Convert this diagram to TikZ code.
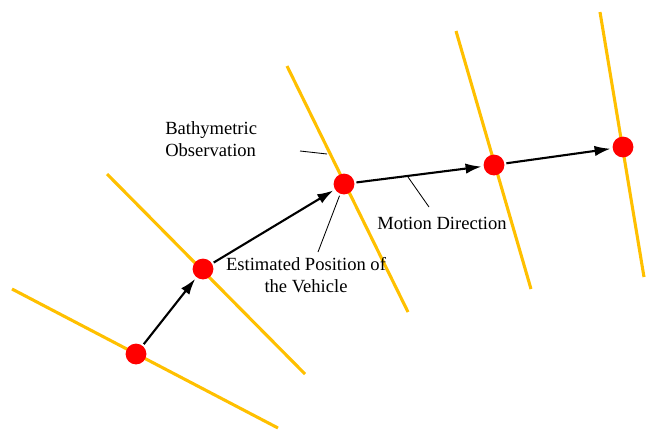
\documentclass[tikz,border=0pt]{standalone}
\usepackage{fontspec}
\setmainfont{Liberation Serif}
\usepackage{xcolor}
\usetikzlibrary{arrows.meta}

\definecolor{obsgold}{RGB}{255,192,0}

\begin{document}
\begin{tikzpicture}[
    x=0.025cm, y=-0.025cm,
    obsline/.style={draw=obsgold, line width=2.2pt},
    vehicle/.style={circle, fill=red, minimum size=0.52cm, inner sep=0pt, outer sep=1.5pt},
    motion/.style={-{Latex[length=0.4cm,width=0.26cm]}, line width=1.5pt},
    leader/.style={line width=0.6pt},
    note/.style={font=\fontsize{13.2}{15.6}\selectfont, inner sep=0pt}
]
    \useasboundingbox (0,0) rectangle (646,430);

    % ================= OBSERVATION LINES =================
    \coordinate (o1a) at (12,289);  \coordinate (o1b) at (278,428);
    \coordinate (o2a) at (107,174); \coordinate (o2b) at (305,374);
    \coordinate (o3a) at (287,66);  \coordinate (o3b) at (408,312);
    \coordinate (o4a) at (456,31);  \coordinate (o4b) at (531,289);
    \coordinate (o5a) at (600,12);  \coordinate (o5b) at (644,277);

    \draw[obsline] (o1a) -- (o1b);
    \draw[obsline] (o2a) -- (o2b);
    \draw[obsline] (o3a) -- (o3b);
    \draw[obsline] (o4a) -- (o4b);
    \draw[obsline] (o5a) -- (o5b);

    % ================= VEHICLE POSITIONS =================
    \node[vehicle] (veh1) at (136,354) {};
    \node[vehicle] (veh2) at (203,269) {};
    \node[vehicle] (veh3) at (344,184) {};
    \node[vehicle] (veh4) at (494,165) {};
    \node[vehicle] (veh5) at (623,147) {};

    % ================= MOTION =================
    \draw[motion] (veh1) -- (veh2);
    \draw[motion] (veh2) -- (veh3);
    \draw[motion] (veh3) -- (veh4);
    \draw[motion] (veh4) -- (veh5);

    % ================= LABELS =================
    \node[note, anchor=north west, align=left] (obs_lbl) at (165,121.5) {Bathymetric\\Observation};
    \node[note, anchor=north, align=center] (pos_lbl) at (306,257.5) {Estimated Position of\\the Vehicle};
    \node[note, anchor=base west] (dir_lbl) at (377,229.3) {Motion Direction};

    \coordinate (obs_from) at (300,151);
    \coordinate (obs_to) at (327,154);
    \coordinate (pos_from) at (318,252);
    \coordinate (dir_from) at (429,207);
    \coordinate (dir_to) at (408,177);

    \draw[leader] (obs_from) -- (obs_to);
    \draw[leader] (pos_from) -- (veh3);
    \draw[leader] (dir_from) -- (dir_to);

\end{tikzpicture}
\end{document}
